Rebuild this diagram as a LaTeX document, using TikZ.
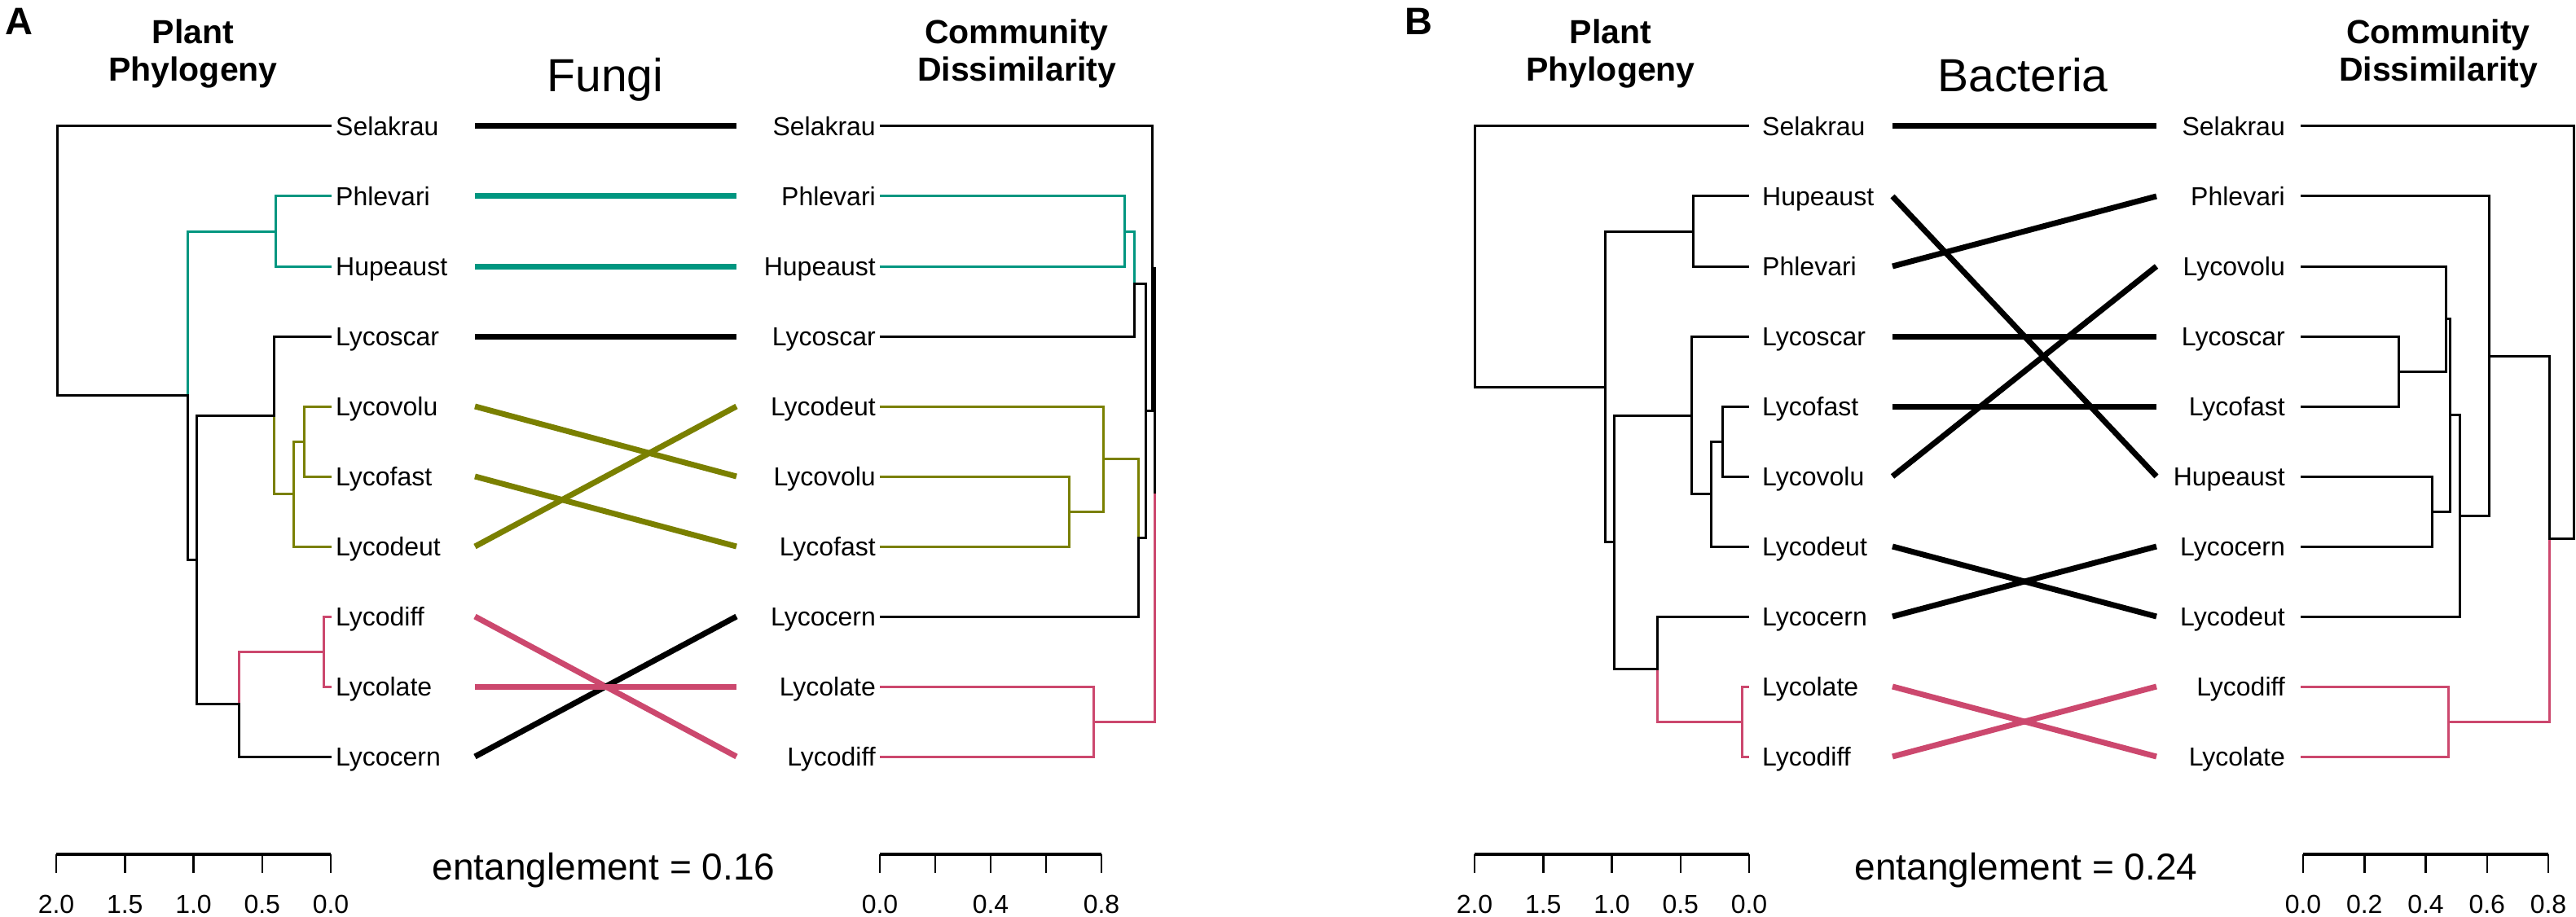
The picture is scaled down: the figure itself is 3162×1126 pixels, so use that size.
\documentclass[tikz,border=0pt]{standalone}
\usepackage{fontspec}
\setmainfont{Liberation Sans}
\definecolor{cteal}{RGB}{0,150,128}
\definecolor{colive}{RGB}{122,128,0}
\definecolor{cpink}{RGB}{204,72,110}
\tikzset{
  dend/.style={line width=3pt, line cap=rect},
  conn/.style={line width=7pt},
  leafL/.style={anchor=west, font=\fontsize{32}{38}\selectfont, inner sep=0pt, text height=23pt, text depth=0pt},
  leafR/.style={anchor=east, font=\fontsize{32}{38}\selectfont, inner sep=0pt, text height=23pt, text depth=0pt},
  head/.style={anchor=base, font=\bfseries\fontsize{41}{46}\selectfont, inner sep=0pt},
  ttl/.style={anchor=base, font=\fontsize{57}{64}\selectfont, inner sep=0pt},
  ent/.style={anchor=base, font=\fontsize{46}{52}\selectfont, inner sep=0pt},
  ticklab/.style={anchor=base, font=\fontsize{32}{38}\selectfont, inner sep=0pt},
  panellab/.style={anchor=base, font=\bfseries\fontsize{47}{52}\selectfont, inner sep=0pt},
  sbar/.style={line width=4pt},
  stick/.style={line width=2.5pt}
}
\begin{document}
\begin{tikzpicture}[x=1pt,y=-1pt]
\useasboundingbox (0,0) rectangle (3162,1126);
\fill[white] (0,0) rectangle (3162,1126);

% ================= PANEL A =================
\node[panellab] (labA) at (23,43) {A};
\node[head] (aH1) at (237,54) {Plant};
\node[head] (aH2) at (237,100) {Phylogeny};
\node[head] (aH3) at (1248,54) {Community};
\node[head] (aH4) at (1248,100) {Dissimilarity};
\node[ttl] (aT) at (743,113) {Fungi};

% left labels
\node[leafL] (aL0) at (412,155) {Selakrau};
\node[leafL] (aL1) at (412,241) {Phlevari};
\node[leafL] (aL2) at (412,327) {Hupeaust};
\node[leafL] (aL3) at (412,413) {Lycoscar};
\node[leafL] (aL4) at (412,499) {Lycovolu};
\node[leafL] (aL5) at (412,585) {Lycofast};
\node[leafL] (aL6) at (412,671) {Lycodeut};
\node[leafL] (aL7) at (412,757) {Lycodiff};
\node[leafL] (aL8) at (412,843) {Lycolate};
\node[leafL] (aL9) at (412,929) {Lycocern};
% right labels
\node[leafR] (aR0) at (1075,155) {Selakrau};
\node[leafR] (aR1) at (1075,241) {Phlevari};
\node[leafR] (aR2) at (1075,327) {Hupeaust};
\node[leafR] (aR3) at (1075,413) {Lycoscar};
\node[leafR] (aR4) at (1075,499) {Lycodeut};
\node[leafR] (aR5) at (1075,585) {Lycovolu};
\node[leafR] (aR6) at (1075,671) {Lycofast};
\node[leafR] (aR7) at (1075,757) {Lycocern};
\node[leafR] (aR8) at (1075,843) {Lycolate};
\node[leafR] (aR9) at (1075,929) {Lycodiff};

% left tree A
\draw[dend] (70,155) -- (405,155);
\draw[dend,cteal] (338,241) -- (405,241);
\draw[dend,cteal] (338,327) -- (405,327);
\draw[dend] (336,413) -- (405,413);
\draw[dend,colive] (373,499) -- (405,499);
\draw[dend,colive] (373,585) -- (405,585);
\draw[dend,colive] (360,671) -- (405,671);
\draw[dend,cpink] (397,757) -- (405,757);
\draw[dend,cpink] (397,843) -- (405,843);
\draw[dend] (293,929) -- (405,929);
\draw[dend,cteal] (338,241) -- (338,327);
\draw[dend,cteal] (230,284) -- (338,284);
\draw[dend,colive] (373,499) -- (373,585);
\draw[dend,colive] (360,542) -- (373,542);
\draw[dend,colive] (360,542) -- (360,671);
\draw[dend,colive] (336,606.5) -- (360,606.5);
\draw[dend] (336,413) -- (336,510);
\draw[dend,colive] (336,510) -- (336,606.5);
\draw[dend] (241,510) -- (336,510);
\draw[dend,cpink] (397,757) -- (397,843);
\draw[dend,cpink] (293,800) -- (397,800);
\draw[dend,cpink] (293,800) -- (293,864.5);
\draw[dend] (293,864.5) -- (293,929);
\draw[dend] (241,864.5) -- (293,864.5);
\draw[dend] (241,510) -- (241,864.5);
\draw[dend] (230,687) -- (241,687);
\draw[dend,cteal] (230,284) -- (230,485.5);
\draw[dend] (230,485.5) -- (230,687);
\draw[dend] (70,485.5) -- (230,485.5);
\draw[dend] (70,155) -- (70,485.5);

% right tree A
\draw[dend] (1081,155) -- (1414,155);
\draw[dend,cteal] (1081,241) -- (1380,241);
\draw[dend,cteal] (1081,327) -- (1380,327);
\draw[dend] (1081,413) -- (1392,413);
\draw[dend,colive] (1081,499) -- (1354,499);
\draw[dend,colive] (1081,585) -- (1312,585);
\draw[dend,colive] (1081,671) -- (1312,671);
\draw[dend] (1081,757) -- (1397,757);
\draw[dend,cpink] (1081,843) -- (1342,843);
\draw[dend,cpink] (1081,929) -- (1342,929);
\draw[dend,cteal] (1380,241) -- (1380,327);
\draw[dend,cteal] (1380,284) -- (1392,284);
\draw[dend,cteal] (1392,284) -- (1392,348.5);
\draw[dend] (1392,348.5) -- (1392,413);
\draw[dend] (1392,348.5) -- (1406,348.5);
\draw[dend,colive] (1312,585) -- (1312,671);
\draw[dend,colive] (1312,628) -- (1354,628);
\draw[dend,colive] (1354,499) -- (1354,628);
\draw[dend,colive] (1354,563.5) -- (1397,563.5);
\draw[dend,colive] (1397,563.5) -- (1397,660);
\draw[dend] (1397,660) -- (1397,757);
\draw[dend] (1397,660) -- (1406,660);
\draw[dend] (1406,348.5) -- (1406,660);
\draw[dend] (1406,504) -- (1414,504);
\draw[dend] (1414,155) -- (1414,504);
\draw[dend] (1414,329.5) -- (1417,329.5);
\draw[dend,cpink] (1342,843) -- (1342,929);
\draw[dend,cpink] (1342,886) -- (1417,886);
\draw[dend] (1417,329.5) -- (1417,607.75);
\draw[dend,cpink] (1417,607.75) -- (1417,886);

% connectors A
\foreach \i/\y in {0/155,1/241,2/327,3/413,4/499,5/585,6/671,7/757,8/843,9/929}{
  \coordinate (caL\i) at (583,\y);
  \coordinate (caR\i) at (904,\y);
}
\draw[conn] (caL0) -- (caR0);
\draw[conn,cteal] (caL1) -- (caR1);
\draw[conn,cteal] (caL2) -- (caR2);
\draw[conn] (caL3) -- (caR3);
\draw[conn,colive] (caL4) -- (caR5);
\draw[conn,colive] (caL5) -- (caR6);
\draw[conn,colive] (caL6) -- (caR4);
\draw[conn,cpink] (caL7) -- (caR9);
\draw[conn] (caL9) -- (caR7);
\draw[conn,cpink] (caL8) -- (caR8);

% scales A
\draw[sbar] (69,1049) -- (406,1049);
\foreach \x/\t in {69/2.0,153.25/1.5,237.5/1.0,321.75/0.5,406/0.0}{
  \draw[stick] (\x,1049) -- (\x,1072);
  \node[ticklab] at (\x,1121) {\t};
}
\draw[sbar] (1080,1049) -- (1352,1049);
\foreach \x in {1080,1148,1216,1284,1352}{
  \draw[stick] (\x,1049) -- (\x,1072);
}
\node[ticklab] (aS0) at (1080,1121) {0.0};
\node[ticklab] (aS1) at (1216,1121) {0.4};
\node[ticklab] (aS2) at (1352,1121) {0.8};
\node[ent] (aE) at (741,1080) {entanglement = 0.16};

% ================= PANEL B =================
\node[panellab] (labB) at (1741,43) {B};
\node[head] (bH1) at (1977,54) {Plant};
\node[head] (bH2) at (1977,100) {Phylogeny};
\node[head] (bH3) at (2993,54) {Community};
\node[head] (bH4) at (2993,100) {Dissimilarity};
\node[ttl] (bT) at (2483,113) {Bacteria};

\node[leafL] (bL0) at (2163,155) {Selakrau};
\node[leafL] (bL1) at (2163,241) {Hupeaust};
\node[leafL] (bL2) at (2163,327) {Phlevari};
\node[leafL] (bL3) at (2163,413) {Lycoscar};
\node[leafL] (bL4) at (2163,499) {Lycofast};
\node[leafL] (bL5) at (2163,585) {Lycovolu};
\node[leafL] (bL6) at (2163,671) {Lycodeut};
\node[leafL] (bL7) at (2163,757) {Lycocern};
\node[leafL] (bL8) at (2163,843) {Lycolate};
\node[leafL] (bL9) at (2163,929) {Lycodiff};

\node[leafR] (bR0) at (2805,155) {Selakrau};
\node[leafR] (bR1) at (2805,241) {Phlevari};
\node[leafR] (bR2) at (2805,327) {Lycovolu};
\node[leafR] (bR3) at (2805,413) {Lycoscar};
\node[leafR] (bR4) at (2805,499) {Lycofast};
\node[leafR] (bR5) at (2805,585) {Hupeaust};
\node[leafR] (bR6) at (2805,671) {Lycocern};
\node[leafR] (bR7) at (2805,757) {Lycodeut};
\node[leafR] (bR8) at (2805,843) {Lycodiff};
\node[leafR] (bR9) at (2805,929) {Lycolate};

% left tree B
\draw[dend] (1810,155) -- (2145,155);
\draw[dend] (2078,241) -- (2145,241);
\draw[dend] (2078,327) -- (2145,327);
\draw[dend] (2076,413) -- (2145,413);
\draw[dend] (2114,499) -- (2145,499);
\draw[dend] (2114,585) -- (2145,585);
\draw[dend] (2100,671) -- (2145,671);
\draw[dend] (2034,757) -- (2145,757);
\draw[dend,cpink] (2138,843) -- (2145,843);
\draw[dend,cpink] (2138,929) -- (2145,929);
\draw[dend] (2078,241) -- (2078,327);
\draw[dend] (1970,284) -- (2078,284);
\draw[dend] (2114,499) -- (2114,585);
\draw[dend] (2100,542) -- (2114,542);
\draw[dend] (2100,542) -- (2100,671);
\draw[dend] (2076,606.5) -- (2100,606.5);
\draw[dend] (2076,413) -- (2076,606.5);
\draw[dend] (1981,510) -- (2076,510);
\draw[dend,cpink] (2138,843) -- (2138,929);
\draw[dend,cpink] (2034,886) -- (2138,886);
\draw[dend] (2034,757) -- (2034,821.5);
\draw[dend,cpink] (2034,821.5) -- (2034,886);
\draw[dend] (1981,821.5) -- (2034,821.5);
\draw[dend] (1981,510) -- (1981,821.5);
\draw[dend] (1970,665.75) -- (1981,665.75);
\draw[dend] (1970,284) -- (1970,665.75);
\draw[dend] (1810,475) -- (1970,475);
\draw[dend] (1810,155) -- (1810,475);

% right tree B
\draw[dend] (2825,155) -- (3159,155);
\draw[dend] (2825,241) -- (3055,241);
\draw[dend] (2825,327) -- (3002,327);
\draw[dend] (2825,413) -- (2944,413);
\draw[dend] (2825,499) -- (2944,499);
\draw[dend] (2825,585) -- (2985,585);
\draw[dend] (2825,671) -- (2985,671);
\draw[dend] (2825,757) -- (3019,757);
\draw[dend,cpink] (2825,843) -- (3005,843);
\draw[dend,cpink] (2825,929) -- (3005,929);
\draw[dend] (2944,413) -- (2944,499);
\draw[dend] (2944,456) -- (3002,456);
\draw[dend] (3002,327) -- (3002,456);
\draw[dend] (3002,391.5) -- (3007,391.5);
\draw[dend] (2985,585) -- (2985,671);
\draw[dend] (2985,628) -- (3007,628);
\draw[dend] (3007,391.5) -- (3007,628);
\draw[dend] (3007,509.75) -- (3019,509.75);
\draw[dend] (3019,509.75) -- (3019,757);
\draw[dend] (3019,633.4) -- (3055,633.4);
\draw[dend] (3055,241) -- (3055,633.4);
\draw[dend] (3055,437.2) -- (3129,437.2);
\draw[dend,cpink] (3005,843) -- (3005,929);
\draw[dend,cpink] (3005,886) -- (3129,886);
\draw[dend] (3129,437.2) -- (3129,661.6);
\draw[dend,cpink] (3129,661.6) -- (3129,886);
\draw[dend] (3129,661.6) -- (3159,661.6);
\draw[dend] (3159,155) -- (3159,661.6);

% connectors B
\foreach \i/\y in {0/155,1/241,2/327,3/413,4/499,5/585,6/671,7/757,8/843,9/929}{
  \coordinate (cbL\i) at (2323,\y);
  \coordinate (cbR\i) at (2647,\y);
}
\draw[conn] (cbL0) -- (cbR0);
\draw[conn] (cbL1) -- (cbR5);
\draw[conn] (cbL2) -- (cbR1);
\draw[conn] (cbL3) -- (cbR3);
\draw[conn] (cbL4) -- (cbR4);
\draw[conn] (cbL5) -- (cbR2);
\draw[conn] (cbL6) -- (cbR7);
\draw[conn] (cbL7) -- (cbR6);
\draw[conn,cpink] (cbL8) -- (cbR9);
\draw[conn,cpink] (cbL9) -- (cbR8);

% scales B
\draw[sbar] (1810,1049) -- (2147,1049);
\foreach \x/\t in {1810/2.0,1894.25/1.5,1978.5/1.0,2062.75/0.5,2147/0.0}{
  \draw[stick] (\x,1049) -- (\x,1072);
  \node[ticklab] at (\x,1121) {\t};
}
\draw[sbar] (2827,1049) -- (3128,1049);
\foreach \x/\t in {2827/0.0,2902.25/0.2,2977.5/0.4,3052.75/0.6,3128/0.8}{
  \draw[stick] (\x,1049) -- (\x,1072);
  \node[ticklab] at (\x,1121) {\t};
}
\node[ent] (bE) at (2487,1080) {entanglement = 0.24};
\end{tikzpicture}
\end{document}
